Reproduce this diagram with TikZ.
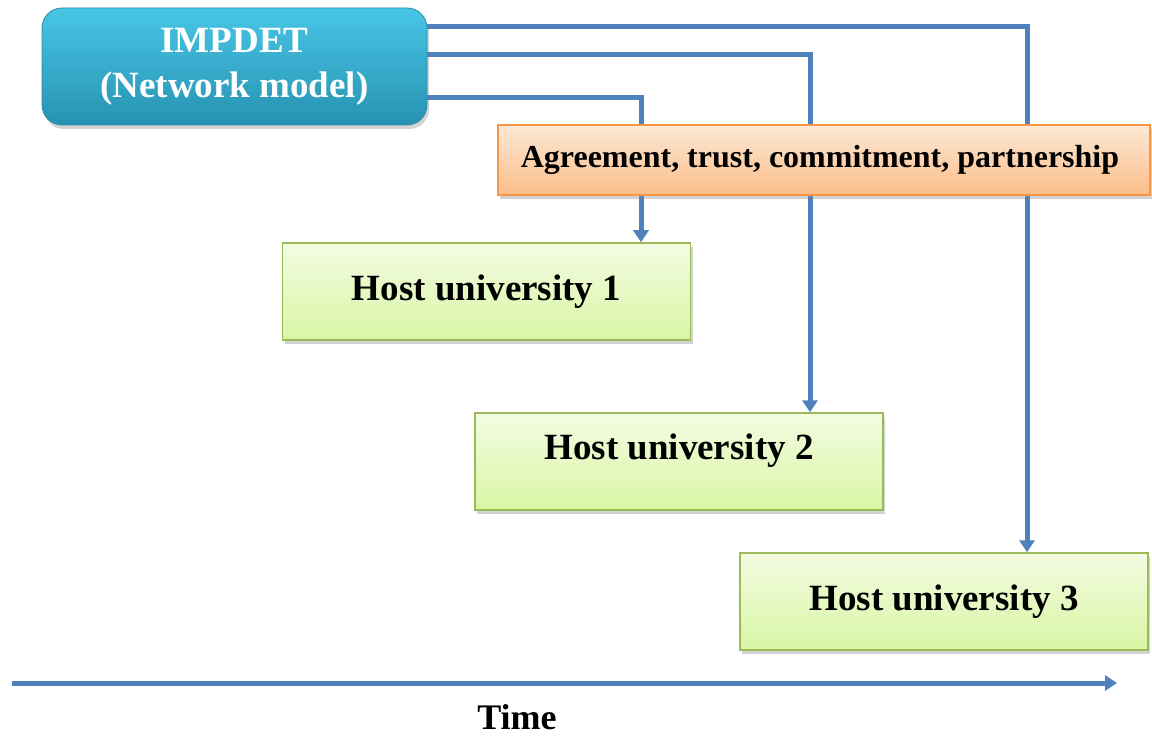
\documentclass[tikz,border=0pt]{standalone}
\usepackage{fontspec}
\setmainfont{Liberation Serif}[BoldFont={Liberation Serif Bold}]
\usetikzlibrary{arrows.meta,shadows}
\definecolor{lineblue}{HTML}{4F81BD}
\definecolor{tealtop}{HTML}{48C6E6}
\definecolor{tealbot}{HTML}{2792B2}
\definecolor{tealdraw}{HTML}{2A8BA8}
\definecolor{ortop}{HTML}{FDE8D6}
\definecolor{orbot}{HTML}{FBBD88}
\definecolor{ordraw}{HTML}{F79646}
\definecolor{grtop}{HTML}{F4FBE2}
\definecolor{grbot}{HTML}{D8F6A4}
\definecolor{grdraw}{HTML}{9BBB59}
\tikzset{
  conn/.style={draw=lineblue, line width=5pt},
  connarrow/.style={conn, -{Triangle[width=15pt,length=12pt]}},
  shadowed/.style={drop shadow={opacity=0.35, shadow xshift=2pt, shadow yshift=-4pt}},
  impbox/.style={shadowed, rounded corners=20pt, draw=tealdraw, line width=0.8pt,
     top color=tealtop, bottom color=tealbot, minimum width=385pt, minimum height=117pt,
     inner sep=0pt, align=center, text=white, font=\fontsize{37}{45}\selectfont\bfseries},
  orbox/.style={shadowed, draw=ordraw, line width=1.5pt, top color=ortop, bottom color=orbot,
     minimum width=652pt, minimum height=70pt, inner sep=0pt,
     font=\fontsize{32}{36}\selectfont\bfseries},
  hostbox/.style={shadowed, draw=grdraw, line width=1.5pt, top color=grtop, bottom color=grbot,
     minimum width=408pt, minimum height=97pt, inner sep=0pt,
     font=\fontsize{37}{41}\selectfont\bfseries},
  timelabel/.style={inner sep=0pt, font=\fontsize{36}{40}\selectfont\bfseries}
}
\begin{document}
\begin{tikzpicture}[x=1pt,y=-1pt]
\useasboundingbox (0,0) rectangle (1152,738);
\node[impbox] (imp) at (234.5,66.5) {IMPDET\\(Network model)};
\node[hostbox] (h1) at (486.5,291.5) {Host university 1};
\node[hostbox] (h2) at (679,461.5) {\raisebox{30pt}{Host university 2}};
\node[hostbox] (h3) at (944,601.5) {Host university 3};
\coordinate (t1) at (641,98);
\coordinate (t2) at (810,55);
\coordinate (t3) at (1027,27);
\draw[connarrow] (imp.east |- t1) -- (t1) -- (t1 |- h1.north);
\draw[connarrow] (imp.east |- t2) -- (t2) -- (t2 |- h2.north);
\draw[connarrow] (imp.east |- t3) -- (t3) -- (t3 |- h3.north);
\node[orbox] (agr) at (824,160) {\hspace*{-8pt}Agreement, trust, commitment, partnership};
\coordinate (ts) at (12,683);
\coordinate (te) at (1117,683);
\draw[connarrow] (ts) -- (te);
\node[timelabel] (time) at (517,717) {Time};
\end{tikzpicture}
\end{document}
